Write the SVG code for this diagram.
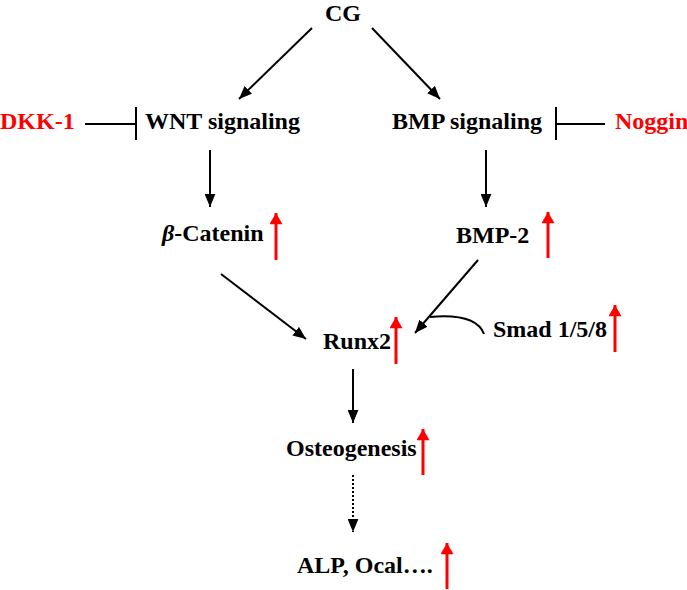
<svg xmlns="http://www.w3.org/2000/svg" width="687" height="590" viewBox="0 0 687 590">
<defs>
<style>
text{font-family:"Liberation Serif","Times New Roman",serif;font-weight:bold;font-size:24px;fill:#000}
text.red{fill:#f00}
.ln{stroke:#000;stroke-width:2;fill:none}
.dot{stroke:#000;stroke-width:2;fill:none;stroke-dasharray:2 2}
.up{stroke:#f00;stroke-width:3;fill:none}
</style>
<marker id="ah" viewBox="0 0 12 10" refX="12" refY="5" markerWidth="13" markerHeight="11" markerUnits="userSpaceOnUse" orient="auto">
<path d="M0,0 L12,5 L0,10 Z" fill="#000"/>
</marker>
<marker id="rh" viewBox="0 0 12 14" refX="12" refY="7" markerWidth="14" markerHeight="13" markerUnits="userSpaceOnUse" orient="auto">
<path d="M0,0 L12,7 L0,14 Z" fill="#f00"/>
</marker>
</defs>
<rect width="687" height="590" fill="#fff"/>
<g id="connectors">
<line class="ln" x1="312" y1="28" x2="239" y2="99" marker-end="url(#ah)"/>
<line class="ln" x1="372" y1="28" x2="440" y2="99" marker-end="url(#ah)"/>
<line class="ln" x1="85" y1="124" x2="136" y2="124"/>
<line class="ln" x1="136" y1="107" x2="136" y2="140"/>
<line class="ln" x1="556" y1="124" x2="605" y2="124"/>
<line class="ln" x1="556" y1="107" x2="556" y2="140"/>
<line class="ln" x1="210" y1="150" x2="210" y2="207" marker-end="url(#ah)"/>
<line class="ln" x1="486" y1="150" x2="486" y2="207" marker-end="url(#ah)"/>
<line class="ln" x1="221" y1="274" x2="306" y2="339" marker-end="url(#ah)"/>
<line class="ln" x1="478" y1="260" x2="415" y2="333" marker-end="url(#ah)"/>
<path class="ln" d="M430,317 Q476,313 484,334"/>
<line class="ln" x1="353" y1="369" x2="353" y2="423" marker-end="url(#ah)"/>
<line class="dot" x1="353" y1="475" x2="353" y2="532" marker-end="url(#ah)"/>
</g>
<g id="up-arrows">
<line class="up" x1="276" y1="260" x2="276" y2="213" marker-end="url(#rh)"/>
<line class="up" x1="548" y1="258" x2="548" y2="212" marker-end="url(#rh)"/>
<line class="up" x1="396" y1="364" x2="396" y2="317" marker-end="url(#rh)"/>
<line class="up" x1="615" y1="352" x2="615" y2="305" marker-end="url(#rh)"/>
<line class="up" x1="423" y1="475" x2="423" y2="429" marker-end="url(#rh)"/>
<line class="up" x1="447" y1="589" x2="447" y2="543" marker-end="url(#rh)"/>
</g>
<g id="cg"><text x="343" y="21" text-anchor="middle">CG</text></g>
<g id="dkk1"><text class="red" x="0" y="129">DKK-1</text></g>
<g id="wnt"><text x="145" y="129">WNT signaling</text></g>
<g id="bmp"><text x="392" y="129">BMP signaling</text></g>
<g id="noggin"><text class="red" x="615" y="129">Noggin</text></g>
<g id="catenin"><text x="162" y="241"><tspan font-style="italic">β</tspan>-Catenin</text></g>
<g id="bmp2"><text x="456" y="243">BMP-2</text></g>
<g id="runx2"><text x="323" y="349">Runx2</text></g>
<g id="smad"><text x="493" y="337">Smad 1/5/8</text></g>
<g id="osteo"><text x="286" y="456">Osteogenesis</text></g>
<g id="alp"><text x="297" y="573">ALP, Ocal….</text></g>
</svg>
